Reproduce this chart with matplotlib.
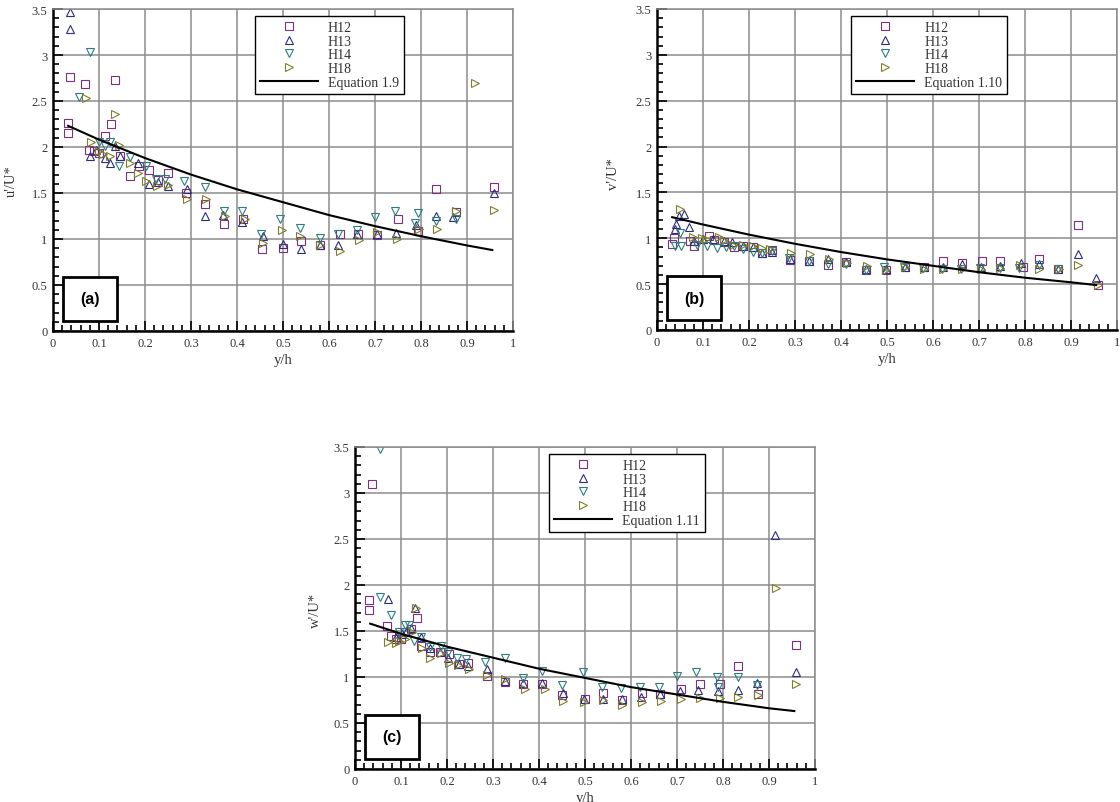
import matplotlib
matplotlib.use("Agg")
import matplotlib.pyplot as plt
from matplotlib.patches import Rectangle
from matplotlib.ticker import MultipleLocator, FuncFormatter

# ---------------- data: panel (a) u'/U* ----------------
a_h12_x = [0.033, 0.033, 0.038, 0.070, 0.078, 0.090, 0.100, 0.114, 0.125, 0.135, 0.145, 0.167, 0.187, 0.208,
           0.228, 0.250, 0.290, 0.330, 0.371, 0.413, 0.454, 0.499, 0.540, 0.580, 0.623, 0.663, 0.705, 0.750,
           0.793, 0.832, 0.875, 0.959]
a_h12_y = [2.26, 2.15, 2.76, 2.68, 1.97, 1.96, 1.94, 2.12, 2.25, 2.73, 1.90, 1.69, 1.79, 1.75,
           1.64, 1.72, 1.50, 1.38, 1.16, 1.22, 0.89, 0.90, 0.98, 0.94, 1.05, 1.05, 1.04, 1.22,
           1.09, 1.54, 1.29, 1.56]
a_h13_x = [0.038, 0.038, 0.081, 0.094, 0.114, 0.123, 0.134, 0.145, 0.185, 0.208, 0.229, 0.250, 0.291, 0.330,
           0.370, 0.410, 0.456, 0.500, 0.540, 0.580, 0.620, 0.660, 0.705, 0.745, 0.790, 0.832, 0.870, 0.959]
a_h13_y = [3.47, 3.28, 1.90, 1.97, 1.88, 1.83, 2.01, 1.90, 1.83, 1.60, 1.62, 1.58, 1.54, 1.25,
           1.26, 1.18, 1.03, 0.95, 0.89, 0.94, 0.94, 1.05, 1.05, 1.07, 1.15, 1.25, 1.24, 1.50]
a_h14_x = [0.056, 0.080, 0.101, 0.114, 0.123, 0.143, 0.167, 0.203, 0.223, 0.243, 0.285, 0.330, 0.371, 0.411,
           0.453, 0.494, 0.537, 0.580, 0.620, 0.660, 0.700, 0.744, 0.787, 0.794, 0.832, 0.875]
a_h14_y = [2.54, 3.03, 2.05, 2.01, 2.05, 1.79, 1.89, 1.79, 1.65, 1.65, 1.63, 1.56, 1.30, 1.30,
           1.05, 1.22, 1.12, 1.01, 1.05, 1.10, 1.24, 1.30, 1.17, 1.28, 1.20, 1.22]
a_h18_x = [0.071, 0.083, 0.100, 0.109, 0.123, 0.134, 0.143, 0.167, 0.185, 0.203, 0.225, 0.250, 0.292, 0.333,
           0.373, 0.417, 0.457, 0.497, 0.537, 0.580, 0.623, 0.665, 0.705, 0.748, 0.795, 0.834, 0.875, 0.917,
           0.959]
a_h18_y = [2.53, 2.05, 1.96, 1.92, 1.90, 2.36, 2.02, 1.83, 1.72, 1.63, 1.58, 1.59, 1.44, 1.43,
           1.25, 1.22, 0.96, 1.10, 1.03, 0.94, 0.87, 0.99, 1.08, 1.00, 1.11, 1.11, 1.30, 2.70,
           1.31]
a_eq_x = [0.033, 0.1, 0.2, 0.3, 0.4, 0.5, 0.6, 0.7, 0.8, 0.9, 0.955]
a_eq_y = [2.23, 2.08, 1.88, 1.70, 1.54, 1.40, 1.26, 1.14, 1.03, 0.93, 0.88]

# ---------------- data: panel (b) v'/U* ----------------
b_h12_x = [0.033, 0.036, 0.072, 0.080, 0.114, 0.123, 0.145, 0.167, 0.187, 0.209, 0.228, 0.249, 0.290, 0.331,
           0.372, 0.411, 0.454, 0.498, 0.539, 0.580, 0.621, 0.662, 0.706, 0.746, 0.795, 0.831, 0.872, 0.916,
           0.959]
b_h12_y = [0.94, 1.00, 0.97, 0.92, 1.03, 0.98, 0.96, 0.91, 0.92, 0.91, 0.84, 0.87, 0.76, 0.75,
           0.71, 0.74, 0.655, 0.655, 0.69, 0.69, 0.75, 0.73, 0.75, 0.75, 0.69, 0.77, 0.67, 1.15,
           0.49]
b_h13_x = [0.040, 0.041, 0.047, 0.058, 0.070, 0.080, 0.100, 0.122, 0.145, 0.163, 0.187, 0.209, 0.228, 0.250,
           0.290, 0.330, 0.372, 0.411, 0.454, 0.498, 0.539, 0.580, 0.622, 0.662, 0.705, 0.746, 0.792, 0.831,
           0.872, 0.916, 0.955]
b_h13_y = [1.10, 1.16, 1.24, 1.27, 1.12, 0.97, 0.99, 0.99, 0.97, 0.96, 0.92, 0.91, 0.84, 0.85,
           0.77, 0.75, 0.77, 0.74, 0.66, 0.67, 0.69, 0.69, 0.69, 0.72, 0.69, 0.70, 0.73, 0.72,
           0.67, 0.83, 0.565]
b_h14_x = [0.040, 0.050, 0.052, 0.087, 0.109, 0.130, 0.149, 0.167, 0.187, 0.209, 0.228, 0.249, 0.288, 0.330,
           0.372, 0.411, 0.454, 0.494, 0.537, 0.578, 0.620, 0.660, 0.703, 0.745, 0.787, 0.831, 0.872]
b_h14_y = [0.92, 1.06, 0.92, 0.93, 0.92, 0.89, 0.90, 0.92, 0.88, 0.85, 0.84, 0.86, 0.78, 0.75,
           0.72, 0.72, 0.65, 0.69, 0.69, 0.68, 0.66, 0.67, 0.68, 0.68, 0.68, 0.71, 0.67]
b_h18_x = [0.049, 0.078, 0.098, 0.106, 0.134, 0.145, 0.165, 0.187, 0.209, 0.228, 0.246, 0.291, 0.332, 0.373,
           0.412, 0.456, 0.498, 0.540, 0.580, 0.622, 0.662, 0.705, 0.745, 0.790, 0.831, 0.873, 0.916, 0.959]
b_h18_y = [1.32, 1.01, 1.00, 0.99, 1.01, 0.98, 0.93, 0.93, 0.92, 0.89, 0.88, 0.84, 0.83, 0.77,
           0.73, 0.70, 0.65, 0.69, 0.67, 0.66, 0.66, 0.67, 0.68, 0.71, 0.66, 0.66, 0.71, 0.49]
b_eq_x = [0.033, 0.1, 0.2, 0.3, 0.4, 0.5, 0.6, 0.7, 0.8, 0.9, 0.955]
b_eq_y = [1.23, 1.15, 1.04, 0.94, 0.85, 0.77, 0.70, 0.63, 0.57, 0.52, 0.49]

# ---------------- data: panel (c) w'/U* ----------------
c_h12_x = [0.031, 0.031, 0.036, 0.069, 0.079, 0.089, 0.100, 0.109, 0.121, 0.134, 0.143, 0.164, 0.184, 0.204,
           0.225, 0.246, 0.286, 0.325, 0.366, 0.406, 0.450, 0.500, 0.540, 0.581, 0.623, 0.663, 0.709, 0.749,
           0.793, 0.832, 0.875, 0.959]
c_h12_y = [1.84, 1.73, 3.10, 1.55, 1.45, 1.41, 1.41, 1.49, 1.52, 1.64, 1.34, 1.27, 1.27, 1.25,
           1.14, 1.15, 1.01, 0.95, 0.92, 0.92, 0.80, 0.76, 0.83, 0.75, 0.83, 0.82, 0.87, 0.92,
           0.92, 1.12, 0.82, 1.35]
c_h13_x = [0.071, 0.089, 0.102, 0.111, 0.121, 0.131, 0.143, 0.164, 0.184, 0.202, 0.225, 0.246, 0.286, 0.325,
           0.366, 0.406, 0.452, 0.497, 0.539, 0.580, 0.621, 0.663, 0.706, 0.746, 0.789, 0.832, 0.874, 0.913,
           0.959]
c_h13_y = [1.85, 1.43, 1.47, 1.49, 1.53, 1.75, 1.43, 1.32, 1.27, 1.21, 1.14, 1.12, 1.09, 0.96,
           0.93, 0.93, 0.83, 0.76, 0.76, 0.76, 0.78, 0.82, 0.85, 0.86, 0.85, 0.86, 0.94, 2.54,
           1.05]
c_h14_x = [0.054, 0.054, 0.079, 0.096, 0.109, 0.118, 0.129, 0.143, 0.164, 0.186, 0.202, 0.221, 0.241, 0.282,
           0.325, 0.366, 0.406, 0.449, 0.495, 0.537, 0.578, 0.619, 0.661, 0.701, 0.741, 0.788, 0.790, 0.833,
           0.874]
c_h14_y = [3.48, 1.87, 1.67, 1.49, 1.56, 1.56, 1.39, 1.43, 1.33, 1.34, 1.27, 1.21, 1.20, 1.16,
           1.21, 0.99, 1.06, 0.91, 1.05, 0.89, 0.88, 0.89, 0.89, 1.01, 1.05, 1.00, 0.89, 1.00,
           0.91]
c_h18_x = [0.071, 0.089, 0.096, 0.109, 0.124, 0.132, 0.145, 0.163, 0.186, 0.205, 0.224, 0.248, 0.286, 0.325,
           0.370, 0.412, 0.452, 0.497, 0.539, 0.581, 0.624, 0.665, 0.709, 0.749, 0.793, 0.833, 0.875, 0.916,
           0.959]
c_h18_y = [1.38, 1.37, 1.39, 1.41, 1.49, 1.75, 1.32, 1.21, 1.26, 1.15, 1.13, 1.09, 1.02, 0.98,
           0.87, 0.87, 0.74, 0.73, 0.75, 0.70, 0.73, 0.74, 0.76, 0.77, 0.77, 0.78, 0.80, 1.97,
           0.92]
c_eq_x = [0.033, 0.1, 0.2, 0.3, 0.4, 0.5, 0.6, 0.7, 0.8, 0.9, 0.955]
c_eq_y = [1.58, 1.47, 1.33, 1.21, 1.09, 0.99, 0.89, 0.81, 0.73, 0.66, 0.63]

series_names = ["H12", "H13", "H14", "H18"]
series_colors = ["#7d2e7d", "#2c2c7e", "#2c7e7e", "#7e7e2c"]
series_markers = ["s", "^", "v", ">"]
series_sizes = [5.6, 6.2, 6.2, 6.2]

panels = [
    dict(rect=[53/1120, (803-332)/803, 460/1120, 322/803],
         data=[(a_h12_x, a_h12_y), (a_h13_x, a_h13_y), (a_h14_x, a_h14_y), (a_h18_x, a_h18_y)],
         eq=(a_eq_x, a_eq_y), eqlabel="Equation 1.9", ylabel="u'/U*", tag="(a)",
         leg=(0.439, 0.978), ylab=(-0.076, 0.47)),
    dict(rect=[657/1120, (803-331)/803, 460/1120, 321/803],
         data=[(b_h12_x, b_h12_y), (b_h13_x, b_h13_y), (b_h14_x, b_h14_y), (b_h18_x, b_h18_y)],
         eq=(b_eq_x, b_eq_y), eqlabel="Equation 1.10", ylabel="v'/U*", tag="(b)",
         leg=(0.422, 0.978), ylab=(-0.08, 0.49)),
    dict(rect=[355/1120, (803-770)/803, 460/1120, 322/803],
         data=[(c_h12_x, c_h12_y), (c_h13_x, c_h13_y), (c_h14_x, c_h14_y), (c_h18_x, c_h18_y)],
         eq=(c_eq_x, c_eq_y), eqlabel="Equation 1.11", ylabel="w'/U*", tag="(c)",
         leg=(0.422, 0.978), ylab=(-0.072, 0.497)),
]

serif = ["Liberation Serif", "DejaVu Serif"]
txtcol = "#333333"

fig = plt.figure(figsize=(11.2, 8.03), dpi=100)


def fmt(v, pos):
    return "%g" % round(v, 3)


for p in panels:
    ax = fig.add_axes(p["rect"])
    ax.set_xlim(0, 1)
    ax.set_ylim(0, 3.5)
    ax.grid(True, which="major", color="#8c8c8c", linewidth=1.1)
    ax.set_axisbelow(True)
    for (xs, ys), name, col, mk, ms in zip(p["data"], series_names, series_colors, series_markers, series_sizes):
        ax.plot(xs, ys, linestyle="none", marker=mk, markersize=ms, markerfacecolor="none",
                markeredgecolor=col, markeredgewidth=0.8, label=name)
    ax.plot(p["eq"][0], p["eq"][1], color="black", linewidth=1.5, label=p["eqlabel"])

    ax.xaxis.set_major_locator(MultipleLocator(0.1))
    ax.xaxis.set_minor_locator(MultipleLocator(0.02))
    ax.yaxis.set_major_locator(MultipleLocator(0.5))
    ax.yaxis.set_minor_locator(MultipleLocator(0.1))
    ax.xaxis.set_major_formatter(FuncFormatter(fmt))
    ax.yaxis.set_major_formatter(FuncFormatter(fmt))
    ax.tick_params(which="both", direction="in", top=False, right=False, width=1.2, color="black")
    ax.tick_params(which="major", length=7, labelsize=9, labelcolor=txtcol, pad=4)
    ax.tick_params(which="minor", length=4)
    for lab in ax.get_xticklabels() + ax.get_yticklabels():
        lab.set_fontfamily(serif)

    for s in ("left", "bottom"):
        ax.spines[s].set_linewidth(1.8)
        ax.spines[s].set_color("black")
    for s in ("top", "right"):
        ax.spines[s].set_linewidth(1.1)
        ax.spines[s].set_color("#8c8c8c")

    ax.set_xlabel("y/h", fontsize=10.5, family=serif, color=txtcol)
    ax.xaxis.set_label_coords(0.5, -0.067)
    ax.set_ylabel(p["ylabel"], fontsize=10.5, family=serif, color=txtcol)
    ax.yaxis.set_label_coords(*p["ylab"])

    leg = ax.legend(loc="upper left", bbox_to_anchor=p["leg"], frameon=True, fancybox=False,
                    framealpha=1, edgecolor="black", prop={"family": serif, "size": 10},
                    handlelength=4.2, handletextpad=0.7, labelspacing=0.05, borderpad=0.35,
                    borderaxespad=0)
    leg.get_frame().set_linewidth(1.0)
    for t in leg.get_texts():
        t.set_color(txtcol)

    ax.add_patch(Rectangle((0.022, 0.031), 0.117, 0.137, transform=ax.transAxes,
                           facecolor="white", edgecolor="black", linewidth=2.0, zorder=5))
    ax.text(0.0805, 0.0995, p["tag"], transform=ax.transAxes, ha="center", va="center",
            fontsize=11.5, fontweight="bold", family=["Liberation Sans", "DejaVu Sans"], zorder=6)

fig.savefig("out.png", dpi=100)
